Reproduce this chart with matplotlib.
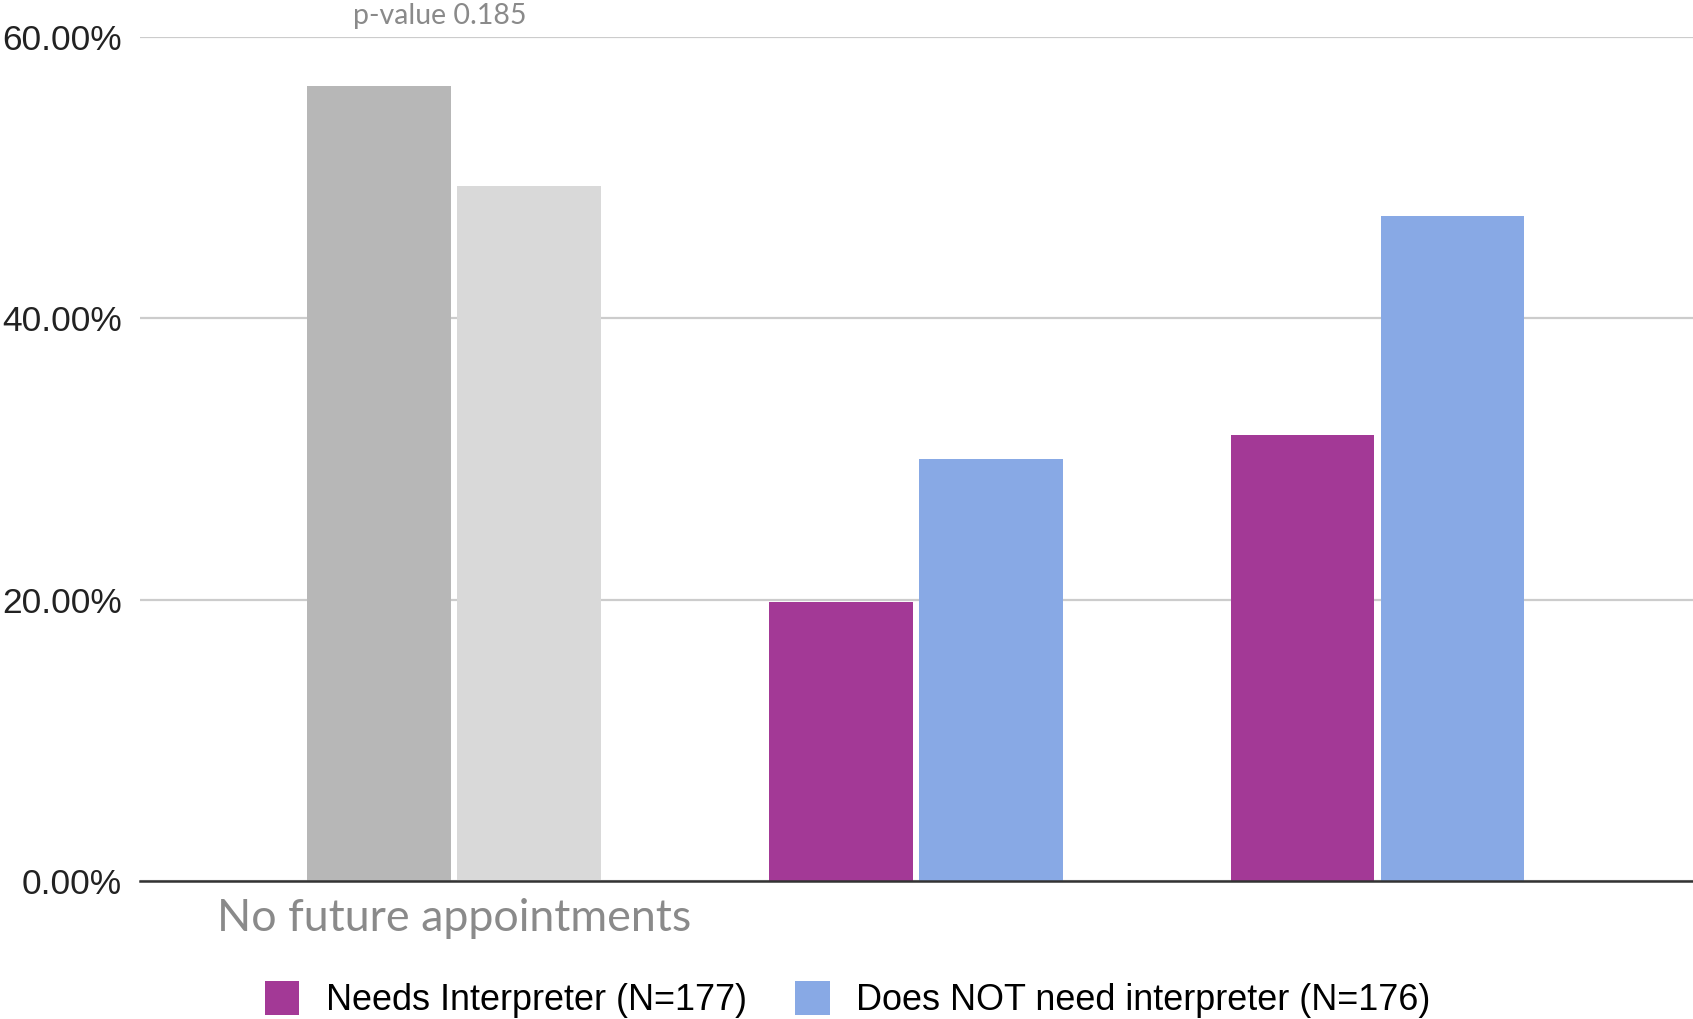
import matplotlib
matplotlib.use("Agg")
import matplotlib.pyplot as plt
from matplotlib.patches import Patch
import numpy as np

# Share of patients per appointment outcome (%)
categories = ["No future appointments", "", ""]
series_names = ["Needs Interpreter (N=177)", "Does NOT need interpreter (N=176)"]
needs_interpreter = [56.5, 19.8, 31.7]
no_interpreter = [49.4, 30.0, 47.3]
y_ticks = [0, 20, 40, 60]
p_value_note = "p-value 0.185"

# First group is muted in greys, the rest use the series colours
needs_colors = ["#b7b7b7", "#a33996", "#a33996"]
no_colors = ["#d9d9d9", "#88a9e5", "#88a9e5"]

fig = plt.figure(figsize=(16.93, 10.19), dpi=100)
ax = fig.add_axes([140 / 1693, 1 - 881 / 1019, 1 - 140 / 1693, (881 - 37) / 1019])

x = np.arange(len(categories))
width = 0.311
offset = 0.1625
ax.bar(x - offset, needs_interpreter, width, color=needs_colors, zorder=3)
ax.bar(x + offset, no_interpreter, width, color=no_colors, zorder=3)

ax.set_xlim(-0.68, 2.683)
ax.set_ylim(0, 60)
ax.set_yticks(y_ticks)
ax.set_yticklabels([f"{v:.2f}%" for v in y_ticks], family="Liberation Sans",
                   fontsize=25.5, color="#222222")
ax.set_xticks(x)
ax.set_xticklabels(categories, family="Lato", fontsize=32.2, color="#8a8a8a")
ax.tick_params(axis="both", length=0)
ax.tick_params(axis="y", pad=13)
ax.tick_params(axis="x", pad=12)

ax.grid(axis="y", color="#cccccc", linewidth=1.6, zorder=0)
ax.set_axisbelow(True)
for side in ["top", "right", "left"]:
    ax.spines[side].set_visible(False)
ax.spines["bottom"].set_color("#333333")
ax.spines["bottom"].set_linewidth(1.8)
ax.spines["bottom"].set_zorder(4)

ax.text(-0.03, 61.5, p_value_note, family="Lato", fontsize=20.5, color="#8a8a8a",
        ha="center", va="center", clip_on=False)

handles = [Patch(facecolor="#a33996", edgecolor="none"),
           Patch(facecolor="#88a9e5", edgecolor="none")]
fig.legend(handles, series_names, loc="center", bbox_to_anchor=(0.5007, 0.019),
           ncol=2, frameon=False, prop={"family": "Liberation Sans", "size": 25.9},
           handlelength=0.95, handleheight=1.05, handletextpad=0.73,
           columnspacing=1.36, borderpad=0, borderaxespad=0)

fig.savefig("out.png", dpi=100, facecolor="white")
